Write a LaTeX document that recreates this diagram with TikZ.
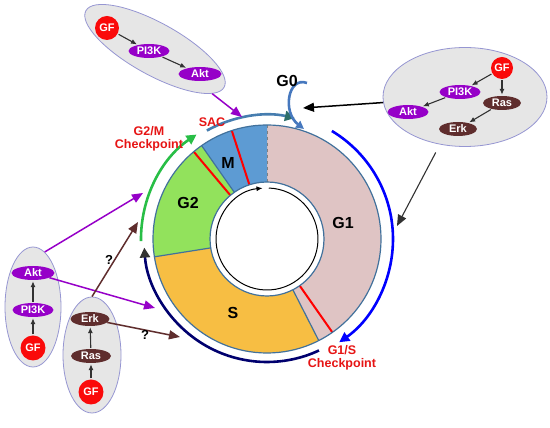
\documentclass[tikz,border=0pt]{standalone}
\usepackage{fontspec}
\setmainfont{Liberation Sans}
\usetikzlibrary{arrows.meta}
\usetikzlibrary{shapes.geometric}
\tikzset{>=latex}
\definecolor{gonepink}{RGB}{223,196,196}
\definecolor{sorange}{RGB}{247,190,67}
\definecolor{gtwogreen}{RGB}{146,226,92}
\definecolor{mblue}{RGB}{93,155,211}
\definecolor{ringrim}{RGB}{65,113,156}
\definecolor{arcnavy}{RGB}{0,0,110}
\definecolor{arcgreen}{RGB}{40,190,70}
\definecolor{arcsteel}{RGB}{70,125,175}
\definecolor{tipteal}{RGB}{45,110,105}
\definecolor{gzeroblue}{RGB}{70,120,190}
\definecolor{pipurple}{RGB}{150,0,200}
\definecolor{erkbrown}{RGB}{95,45,45}
\definecolor{cellgray}{RGB}{230,230,230}
\definecolor{cellrim}{RGB}{150,150,210}
\definecolor{gfred}{RGB}{250,10,10}
\definecolor{chkred}{RGB}{230,20,20}
\definecolor{sigdark}{RGB}{50,50,50}

\tikzset{
  cell/.style={ellipse, draw=cellrim, fill=cellgray, line width=0.8pt, inner sep=0pt},
  mol/.style={ellipse, inner sep=0pt, minimum width=41pt, minimum height=14pt,
    text=white, font=\fontsize{11}{11}\selectfont\bfseries},
  gf/.style={circle, fill=gfred, inner sep=0pt, minimum size=24pt,
    text=white, font=\fontsize{11}{11}\selectfont\bfseries},
  sig/.style={-{Latex[length=6pt,width=5pt]}, draw=sigdark, line width=1.1pt,
    shorten >=1pt, shorten <=1pt},
  feed/.style={-{Triangle[length=11pt,width=9pt]}, line width=1.5pt},
  phase/.style={font=\fontsize{16}{16}\selectfont\bfseries},
  chk/.style={text=chkred, align=center, font=\fontsize{12.5}{13}\selectfont\bfseries},
  ringline/.style={draw=ringrim, line width=1.2pt},
}

\begin{document}
\begin{tikzpicture}[x=1pt,y=1pt]
  \useasboundingbox (0,0) rectangle (550,428);
  \xdef\rin{57}
  \xdef\rout{114}
  \begin{scope}[shift={(267,189)}]
    \foreach \a/\b/\c in {-63/90/gonepink, 90/125/mblue, 125/189/gtwogreen, 189/297/sorange}{
      \fill[\c] (\a:\rout) arc (\a:\b:\rout) -- (\b:\rin) arc (\b:\a:\rin) -- cycle;
    }
    \foreach \a in {-63,125,189}{
      \draw[ringline] (\a:\rin) -- (\a:\rout);
    }
    \draw[gray, dashed, line width=0.8pt] (90:\rin) -- (90:\rout);
    \foreach \a in {-55,108,130}{
      \draw[red, line width=2pt] (\a:\rin) -- (\a:\rout);
    }
    \draw[ringline] (0,0) circle (\rout);
    \draw[ringline] (0,0) circle (\rin);
    \draw[-{Latex[length=6pt,width=5pt]}, line width=1pt] (88:51) arc (88:-265:51);
    \draw[arcnavy, line width=2.6pt, -{Triangle[color=sigdark,length=10pt,width=10pt]}]
      (-65:123) arc (-65:-176:123);
    \draw[arcgreen, line width=2.6pt, -{Triangle[length=10pt,width=10pt]}]
      (181:126) arc (181:124:126);
    \draw[arcsteel, line width=2.6pt, -{Triangle[color=tipteal,length=10pt,width=10pt]}]
      (119:124) arc (119:77:124);
    \draw[blue, line width=2.6pt, -{Triangle[length=10pt,width=10pt]}]
      (59:126) arc (59:-55:126);
  \end{scope}

  \coordinate (gzeroa) at (307,345);
  \coordinate (gzerob) at (304,299);
  \draw[gzeroblue, line width=2.6pt, -{Triangle[length=8pt,width=8pt]}]
    (gzeroa) .. controls (288,352) and (282,316) .. (gzerob);

  \node[phase] (gone) at (343,205) {G1};
  \node[phase] (gtwo) at (188,225) {G2};
  \node[phase] (mph) at (228,265) {M};
  \node[phase] (sph) at (233,115) {S};
  \node[phase] (gzero) at (287,347) {G0};
  \node[chk] (sac) at (212,306) {SAC};
  \node[chk] (gtwom) at (149,289) {G2/M\\Checkpoint};
  \node[chk] (gones) at (342,70) {G1/S\\Checkpoint};

  \node[cell, minimum width=158pt, minimum height=52pt, rotate=-29] (topcell) at (155,379) {};
  \node[gf] (gfa) at (107,400) {GF};
  \node[mol, fill=pipurple] (pia) at (149,377) {PI3K};
  \node[mol, fill=pipurple, minimum width=43pt] (akta) at (200,354) {Akt};
  \draw[sig] (gfa) -- (pia);
  \draw[sig] (pia) -- (akta);

  \node[cell, minimum width=164pt, minimum height=99pt] (rightcell) at (465,331) {};
  \node[gf, minimum size=22pt] (gfb) at (502,360) {GF};
  \node[mol, fill=pipurple] (pib) at (460,336) {PI3K};
  \node[mol, fill=erkbrown, minimum width=38pt] (rasb) at (502,325) {Ras};
  \node[mol, fill=pipurple] (aktb) at (408,316) {Akt};
  \node[mol, fill=erkbrown, minimum width=38pt] (erkb) at (458,299) {Erk};
  \draw[sig] (gfb) -- (pib);
  \draw[sig] (gfb) -- (rasb);
  \draw[sig] (pib) -- (aktb);
  \draw[sig] (rasb) -- (erkb);

  \node[cell, minimum width=56pt, minimum height=120pt] (leftcell) at (33,121) {};
  \node[mol, fill=pipurple, minimum width=43pt] (aktc) at (33,155) {Akt};
  \node[mol, fill=pipurple] (pic) at (33,118) {PI3K};
  \node[gf, minimum size=25pt] (gfc) at (33,80) {GF};
  \draw[sig] (gfc) -- (pic);
  \draw[sig] (pic) -- (aktc);

  \node[cell, minimum width=58pt, minimum height=116pt] (lowcell) at (92,73) {};
  \node[mol, fill=erkbrown, minimum width=39pt] (erkd) at (90,109) {Erk};
  \node[mol, fill=erkbrown, minimum width=40pt] (rasd) at (91,72) {Ras};
  \node[gf, minimum size=25pt] (gfd) at (91,36) {GF};
  \draw[sig] (gfd) -- (rasd);
  \draw[sig] (rasd) -- (erkd);

  \coordinate (tohook) at (303,320);
  \coordinate (togone) at (397,202);
  \coordinate (tom) at (242,311);
  \coordinate (togtwo) at (143,235);
  \coordinate (tos) at (155,120);
  \coordinate (togtwob) at (138,206);
  \coordinate (tosb) at (180,91);
  \draw[feed, black] (rightcell) -- (tohook);
  \draw[feed, sigdark, line width=1.1pt, shorten <=9pt] (rightcell) -- (togone);
  \draw[feed, pipurple] (topcell) -- (tom);
  \draw[feed, pipurple] (leftcell.78) -- (togtwo);
  \draw[feed, pipurple] (aktc) -- (tos);
  \draw[feed, erkbrown] (lowcell.north) -- (togtwob);
  \draw[feed, erkbrown] (erkd) -- (tosb);
  \node[font=\fontsize{13}{13}\selectfont\bfseries] (qa) at (109,168) {?};
  \node[font=\fontsize{13}{13}\selectfont\bfseries] (qb) at (145,93) {?};
\end{tikzpicture}
\end{document}
